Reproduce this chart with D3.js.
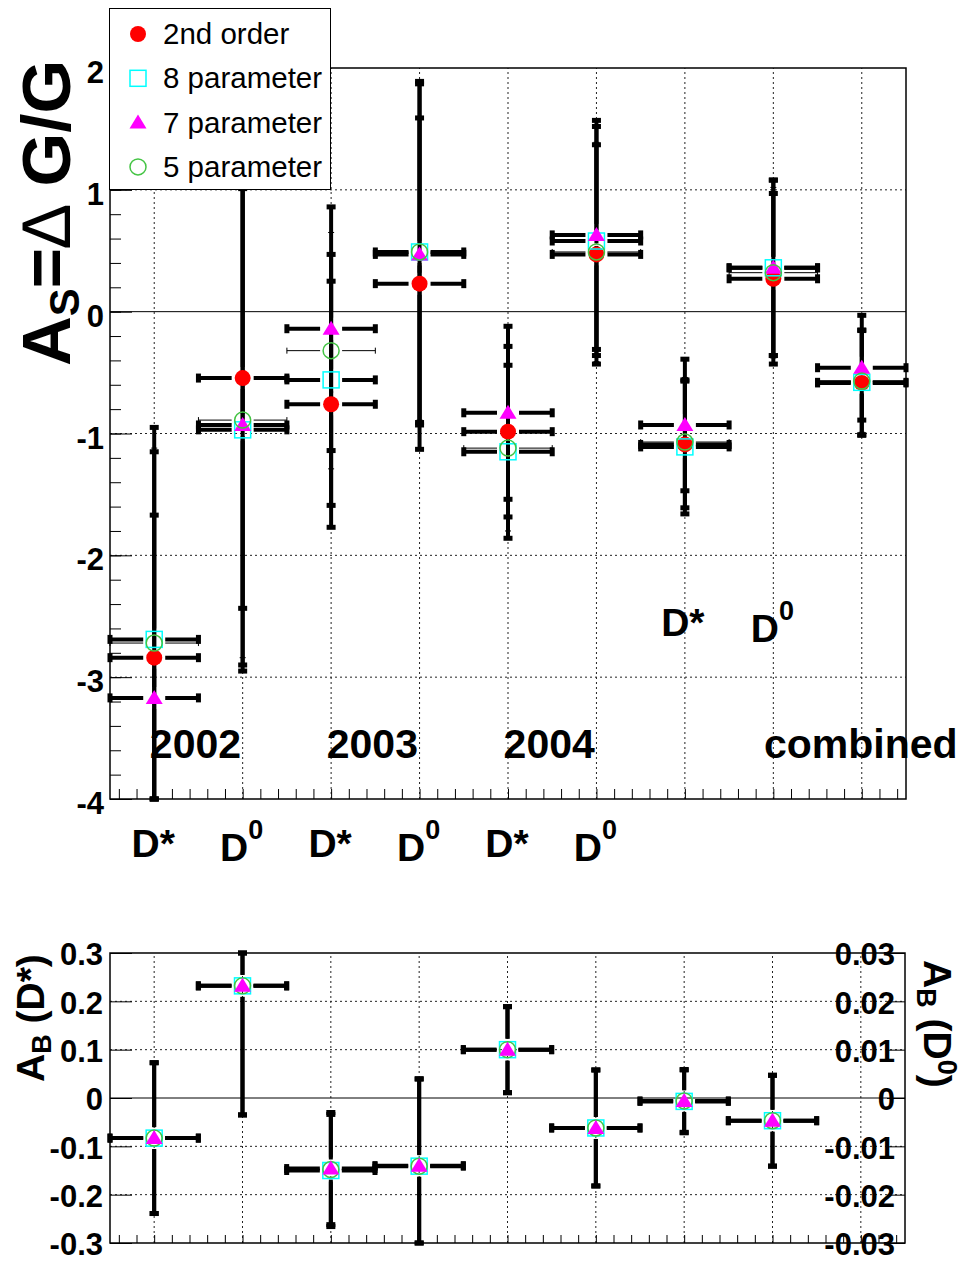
<!DOCTYPE html>
<html>
<head>
<meta charset="utf-8">
<script src="https://cdn.jsdelivr.net/npm/d3@7"></script>
<style>
  body { margin: 0; background: #ffffff; }
  text { font-family: "Liberation Sans", Arial, Helvetica, sans-serif; }
</style>
</head>
<body>
<svg id="chart" width="971" height="1262"></svg>
<script>
// bins: 2002 D*, 2002 D0, 2003 D*, 2003 D0, 2004 D*, 2004 D0, comb D*, comb D0, comb all
var bins = [0, 1, 2, 3, 4, 5, 6, 7, 8];
var binMeson = ["D*", "D0", "D*", "D0", "D*", "D0"];
var yearLabels = ["2002", "2003", "2004"];

// A_S = dG/G, four fit methods
var order2 = [-2.84, -0.545, -0.76, 0.23, -0.985, 0.47, -1.09, 0.27, -0.585];
var order2Err = [1.17, 1.89, 1.01, 1.36, 0.70, 0.90, 0.52, 0.70, 0.43];
var par8 = [-2.69, -0.97, -0.56, 0.49, -1.15, 0.58, -1.11, 0.36, -0.58];
var par8Err = [1.54, 1.98, 1.03, 1.40, 0.71, 0.94, 0.55, 0.72, 0.43];
var par7 = [-3.17, -0.93, -0.14, 0.47, -0.83, 0.63, -0.93, 0.36, -0.46];
var par7Err = [2.22, 1.97, 1.00, 1.40, 0.71, 0.94, 0.54, 0.72, 0.43];
var par5 = [-2.72, -0.89, -0.32, 0.49, -1.12, 0.49, -1.07, 0.32, -0.57];
var par5Err = [1.60, 1.95, 0.97, 1.38, 0.68, 0.90, 0.53, 0.70, 0.42];

// A_B, D* on left scale, D0 on right scale (x10)
var bBins = [0, 1, 2, 3, 4, 5, 6, 7];
var bPar8 = [-0.083, 0.232, -0.150, -0.141, 0.100, -0.062, -0.007, -0.047];
var bPar7 = [-0.083, 0.232, -0.146, -0.140, 0.100, -0.062, -0.006, -0.047];
var bPar5 = [-0.083, 0.232, -0.148, -0.141, 0.100, -0.062, -0.006, -0.047];
var bErr = [0.156, 0.267, 0.116, 0.18, 0.089, 0.12, 0.065, 0.094];

var yTicksTop = [-4, -3, -2, -1, 0, 1, 2];
var yTicksBot = [-0.3, -0.2, -0.1, 0, 0.1, 0.2, 0.3];
var yTicksBotR = [-0.03, -0.02, -0.01, 0, 0.01, 0.02, 0.03];

var legend_names = ["2nd order", "8 parameter", "7 parameter", "5 parameter"];

var svg = d3.select("#chart");
var font = '"Liberation Sans", Arial, Helvetica, sans-serif';

var x_top = d3.scaleLinear().domain([-0.5, 8.5]).range([110, 906]);
var y_top = d3.scaleLinear().domain([-4, 2]).range([799, 68]);
var x_bot = d3.scaleLinear().domain([-0.5, 8.5]).range([110, 905]);
var y_bot = d3.scaleLinear().domain([-0.3, 0.3]).range([1243, 953]);
var y_bot_r = d3.scaleLinear().domain([-0.03, 0.03]).range([1243, 953]);

var fmt = (d) => (d === 0 ? "0" : String(+d.toFixed(2)));
var minorX = d3.range(0, 45).map((k) => -0.4 + k * 0.2);

function drawGrid(g, xs, ys, hvals, zero) {
  g.append("g")
    .selectAll("line")
    .data(bins)
    .join("line")
    .attr("x1", (d) => xs(d)).attr("x2", (d) => xs(d))
    .attr("y1", ys.range()[0]).attr("y2", ys.range()[1])
    .attr("stroke", "#222").attr("stroke-width", 1)
    .attr("stroke-dasharray", "2,3");
  g.append("g")
    .selectAll("line")
    .data(hvals)
    .join("line")
    .attr("x1", xs.range()[0]).attr("x2", xs.range()[1])
    .attr("y1", (d) => ys(d)).attr("y2", (d) => ys(d))
    .attr("stroke", "#222").attr("stroke-width", 1)
    .attr("stroke-dasharray", "2,3");
  g.append("line")
    .attr("x1", xs.range()[0]).attr("x2", xs.range()[1])
    .attr("y1", ys(zero)).attr("y2", ys(zero))
    .attr("stroke", "#000").attr("stroke-width", 1);
}

// error bars with a gap round the marker, caps at both ends
function drawErrors(g, xs, ys, xv, yv, err, thick) {
  var lw = thick ? 4 : 1,
    cap = thick ? 9 : 6,
    capw = thick ? 5 : 1,
    gap = 11,
    ylo = ys.domain()[0],
    yhi = ys.domain()[1];
  xv.forEach(function (xi, i) {
    var cx = xs(xi), cy = ys(yv[i]);
    var xl = xs(xi - 0.5), xr = xs(xi + 0.5);
    var yt = ys(Math.min(yv[i] + err[i], yhi)),
      yb = ys(Math.max(yv[i] - err[i], ylo));
    var segs = [
      [xl, cy, cx - gap, cy],
      [cx + gap, cy, xr, cy],
    ];
    if (yt < cy - gap) segs.push([cx, yt, cx, cy - gap]);
    if (yb > cy + gap) segs.push([cx, cy + gap, cx, yb]);
    segs.forEach(function (s) {
      g.append("line")
        .attr("x1", s[0]).attr("y1", s[1]).attr("x2", s[2]).attr("y2", s[3])
        .attr("stroke", "#000").attr("stroke-width", lw);
    });
    // caps
    [xl, xr].forEach(function (px) {
      g.append("rect")
        .attr("x", px - capw / 2).attr("y", cy - cap / 2)
        .attr("width", capw).attr("height", cap).attr("fill", "#000");
    });
    [yt, yb].forEach(function (py) {
      g.append("rect")
        .attr("x", cx - cap / 2).attr("y", py - capw / 2)
        .attr("width", cap).attr("height", capw).attr("fill", "#000");
    });
  });
}

var tri = "M0,-8L8.5,6L-8.5,6Z";

function drawMarkers(g, xs, ys, xv, yv, kind) {
  var sel = g.append("g").selectAll("g").data(xv).join("g")
    .attr("transform", (d, i) => "translate(" + xs(d) + "," + ys(yv[i]) + ")");
  drawShape(sel, kind);
}

function drawShape(sel, kind) {
  if (kind === "circle") {
    sel.append("circle").attr("r", 8).attr("fill", "#ff0000");
  } else if (kind === "square") {
    sel.append("rect").attr("x", -8).attr("y", -8).attr("width", 16).attr("height", 16)
      .attr("fill", "none").attr("stroke", "#00ffff").attr("stroke-width", 1.5);
  } else if (kind === "triangle") {
    sel.append("path").attr("d", tri).attr("fill", "#ff00ff");
  } else {
    sel.append("circle").attr("r", 8).attr("fill", "none")
      .attr("stroke", "#44c444").attr("stroke-width", 1.5);
  }
}

// ---------- top panel ----------
var top_g = svg.append("g");
drawGrid(top_g, x_top, y_top, [-3, -2, -1, 1], 0);

top_g.append("g")
  .attr("transform", "translate(0,799)")
  .call(d3.axisBottom(x_top).tickValues(minorX).tickSize(-10).tickFormat(""))
  .call((a) => a.select(".domain").remove());

top_g.append("g")
  .attr("transform", "translate(110,0)")
  .call(d3.axisLeft(y_top).tickValues(d3.range(0, 31).map((k) => -4 + k * 0.2)).tickSize(-11).tickFormat(""))
  .call((a) => a.select(".domain").remove());

top_g.append("g")
  .attr("transform", "translate(110,0)")
  .call(d3.axisLeft(y_top).tickValues(yTicksTop).tickSize(-22).tickPadding(6).tickFormat(fmt))
  .call((a) => a.select(".domain").remove())
  .call((a) =>
    a.selectAll("text")
      .attr("dy", "0.47em")
      .attr("font-family", font)
      .attr("font-size", "31px")
      .attr("font-weight", "bold")
      .attr("fill", "#000")
  );

top_g.append("rect")
  .attr("x", 110).attr("y", 68).attr("width", 796).attr("height", 731)
  .attr("fill", "none").attr("stroke", "#000").attr("stroke-width", 1.5);

drawErrors(top_g, x_top, y_top, bins, order2, order2Err, true);
drawErrors(top_g, x_top, y_top, bins, par8, par8Err, true);
drawErrors(top_g, x_top, y_top, bins, par7, par7Err, true);
drawErrors(top_g, x_top, y_top, bins, par5, par5Err, false);

drawMarkers(top_g, x_top, y_top, bins, order2, "circle");
drawMarkers(top_g, x_top, y_top, bins, par8, "square");
drawMarkers(top_g, x_top, y_top, bins, par7, "triangle");
drawMarkers(top_g, x_top, y_top, bins, par5, "open");

// meson label helper
function mesonLabel(g, x, y, name, size) {
  var t = g.append("text")
    .attr("x", x).attr("y", y)
    .attr("text-anchor", "middle")
    .attr("font-size", size + "px")
    .attr("font-weight", "bold");
  if (name === "D0") {
    t.append("tspan").text("D");
    t.append("tspan").attr("font-size", Math.round(size * 0.68) + "px")
      .attr("baseline-shift", "80%").text("0");
  } else {
    t.text(name);
  }
}

binMeson.forEach(function (m, i) {
  mesonLabel(svg, x_top(i) - 1, m === "D0" ? 861 : 857, m, 39);
});
mesonLabel(svg, x_top(6) - 2, y_top(-3.5) - 102, "D*", 39);
mesonLabel(svg, x_top(7) - 1, y_top(-3.5) - 96, "D0", 39);

yearLabels.forEach(function (yr, i) {
  svg.append("text")
    .attr("x", x_top(2 * i + 0.5) - 3)
    .attr("y", y_top(-3.5) + 20)
    .attr("text-anchor", "middle")
    .attr("font-size", "41px")
    .attr("font-weight", "bold")
    .text(yr);
});
svg.append("text")
  .attr("x", x_top(8) - 1)
  .attr("y", y_top(-3.5) + 20)
  .attr("text-anchor", "middle")
  .attr("font-size", "41px")
  .attr("font-weight", "bold")
  .text("combined");

// y title
var ttl = svg.append("text")
  .attr("transform", "translate(70,366) rotate(-90)")
  .attr("font-size", "69px")
  .attr("font-weight", "bold");
ttl.append("tspan").text("A");
ttl.append("tspan").attr("font-size", "42px").attr("baseline-shift", "-9px").text("S");
ttl.append("tspan").text("=");
ttl.append("tspan").attr("font-weight", "normal").text("\u2206");
ttl.append("tspan").text(" G/G");

// legend
var leg = svg.append("g");
leg.append("rect")
  .attr("x", 109.5).attr("y", 8.5).attr("width", 221).attr("height", 181)
  .attr("fill", "#fff").attr("stroke", "#000").attr("stroke-width", 1);
var kinds = ["circle", "square", "triangle", "open"];
var rows = leg.selectAll("g.row").data(legend_names).join("g")
  .attr("class", "row")
  .attr("transform", (d, i) => "translate(138," + (34 + i * 44.3) + ")");
rows.each(function (d, i) {
  drawShape(d3.select(this), kinds[i]);
});
rows.append("text")
  .attr("x", 25).attr("y", 10)
  .attr("font-size", "29.5px")
  .text((d) => d);

// ---------- bottom panel ----------
var bot_g = svg.append("g");
drawGrid(bot_g, x_bot, y_bot, [-0.2, -0.1, 0.1, 0.2], 0);

bot_g.append("g")
  .attr("transform", "translate(0,1243)")
  .call(d3.axisBottom(x_bot).tickValues(minorX).tickSize(-8).tickFormat(""))
  .call((a) => a.select(".domain").remove());

bot_g.append("g")
  .attr("transform", "translate(110,0)")
  .call(d3.axisLeft(y_bot).tickValues(yTicksBot).tickSize(-22).tickPadding(7).tickFormat(fmt))
  .call((a) => a.select(".domain").remove())
  .call((a) =>
    a.selectAll("text")
      .attr("dy", "0.38em")
      .attr("font-family", font)
      .attr("font-size", "31px")
      .attr("font-weight", "bold")
      .attr("fill", "#000")
  );

bot_g.append("g")
  .attr("transform", "translate(905,0)")
  .call(d3.axisLeft(y_bot_r).tickValues(yTicksBotR).tickSize(18).tickPadding(-8).tickFormat(fmt))
  .call((a) => a.select(".domain").remove())
  .call((a) =>
    a.selectAll("text")
      .attr("dy", "0.38em")
      .attr("font-family", font)
      .attr("font-size", "31px")
      .attr("font-weight", "bold")
      .attr("fill", "#000")
  );

bot_g.append("rect")
  .attr("x", 110).attr("y", 953).attr("width", 795).attr("height", 290)
  .attr("fill", "none").attr("stroke", "#000").attr("stroke-width", 1.5);

drawErrors(bot_g, x_bot, y_bot, bBins, bPar8, bErr, true);
drawErrors(bot_g, x_bot, y_bot, bBins, bPar7, bErr, true);
drawErrors(bot_g, x_bot, y_bot, bBins, bPar5, bErr, false);
drawMarkers(bot_g, x_bot, y_bot, bBins, bPar8, "square");
drawMarkers(bot_g, x_bot, y_bot, bBins, bPar5, "open");
drawMarkers(bot_g, x_bot, y_bot, bBins, bPar7, "triangle");

var lt = svg.append("text")
  .attr("transform", "translate(44,1082) rotate(-90)")
  .attr("font-size", "39px").attr("font-weight", "bold");
lt.append("tspan").text("A");
lt.append("tspan").attr("font-size", "27px").attr("baseline-shift", "-7px").text("B");
lt.append("tspan").text(" (D*)");

var rt = svg.append("text")
  .attr("transform", "translate(924,960) rotate(90)")
  .attr("font-size", "39px").attr("font-weight", "bold");
rt.append("tspan").text("A");
rt.append("tspan").attr("font-size", "27px").attr("baseline-shift", "-7px").text("B");
rt.append("tspan").text(" (D");
rt.append("tspan").attr("font-size", "27px").attr("baseline-shift", "14px").text("0");
rt.append("tspan").attr("baseline-shift", "0px").text(")");
</script>
</body>
</html>
